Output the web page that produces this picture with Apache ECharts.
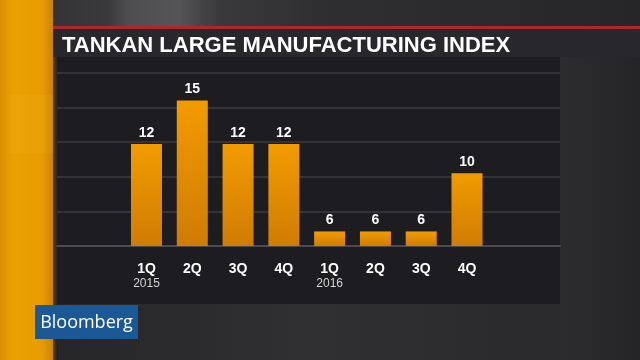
<!DOCTYPE html>
<html>
<head>
<meta charset="utf-8">
<script src="https://cdn.jsdelivr.net/npm/echarts@6/dist/echarts.min.js"></script>
<style>
html,body{margin:0;padding:0;background:#2b2b2d;}
#chart{width:640px;height:360px;}
</style>
</head>
<body>
<div id="chart"></div>
<script>
// ---- data ----
const quarters = ['1Q', '2Q', '3Q', '4Q', '1Q', '2Q', '3Q', '4Q'];
const years = ['2015', '', '', '', '2016', '', '', ''];
const values = [12, 15, 12, 12, 6, 6, 6, 10];
const titleText = 'TANKAN LARGE MANUFACTURING INDEX';
const brandText = 'Bloomberg';

const FONT = '"Liberation Sans", Arial, sans-serif';
const chart = echarts.init(document.getElementById('chart'), null, {renderer: 'canvas'});

const cats = quarters.map((q, i) => i);

const option = {
  backgroundColor: '#2b2b2d',
  animation: false,
  title: {
    text: titleText,
    left: 57,
    top: 30,
    textStyle: {color: '#ffffff', fontSize: 22, fontWeight: 'bold', fontFamily: FONT}
  },
  graphic: [
    // top strip
    {type: 'rect', z: -10, shape: {x: 0, y: 0, width: 640, height: 28},
      style: {fill: new echarts.graphic.LinearGradient(0, 0, 1, 0, [
        {offset: 0, color: '#2e2e30'}, {offset: 0.17, color: '#3a3a3c'},
        {offset: 0.2, color: '#4e4e50'}, {offset: 0.28, color: '#555557'},
        {offset: 0.34, color: '#3a3a3c'}, {offset: 0.5, color: '#2f2f31'}, {offset: 1, color: '#262628'}])}},
    // right side
    {type: 'rect', z: -10, shape: {x: 560, y: 28, width: 80, height: 332},
      style: {fill: new echarts.graphic.LinearGradient(0, 0, 1, 0, [
        {offset: 0, color: '#2c2c2e'}, {offset: 1, color: '#252527'}])}},
    // bottom area
    {type: 'rect', z: -10, shape: {x: 53, y: 304, width: 507, height: 56},
      style: {fill: new echarts.graphic.LinearGradient(0, 0, 1, 0, [
        {offset: 0, color: '#262628'}, {offset: 0.5, color: '#303032'}, {offset: 1, color: '#2a2a2c'}])}},
    // red line
    {type: 'rect', z: -9, shape: {x: 52, y: 26, width: 588, height: 3},
      style: {fill: '#b0262c'}},
    // title bar
    {type: 'rect', z: -9, shape: {x: 52, y: 29, width: 588, height: 28},
      style: {fill: '#28282c'}},
    // panel
    {type: 'rect', z: -9, shape: {x: 57, y: 57, width: 503, height: 247},
      style: {fill: '#1d1d21'}},
    // orange strip
    {type: 'rect', z: -8, shape: {x: 0, y: 0, width: 53, height: 360},
      style: {fill: new echarts.graphic.LinearGradient(0, 0, 1, 0, [
        {offset: 0, color: '#d98e00'}, {offset: 0.25, color: '#eba100'},
        {offset: 0.8, color: '#e89c00'}, {offset: 1, color: '#c98400'}])}},
    // halftone patch on orange strip
    {type: 'rect', z: -7, shape: {x: 8, y: 95, width: 45, height: 58},
      style: {fill: 'rgba(255,210,90,0.07)'}},
    // shadow right of strip
    {type: 'rect', z: -7, shape: {x: 53, y: 57, width: 5, height: 303},
      style: {fill: new echarts.graphic.LinearGradient(0, 0, 1, 0, [
        {offset: 0, color: '#5a4010'}, {offset: 1, color: '#1d1d21'}])}},
    // Bloomberg badge
    {type: 'group', z: 20, children: [
      {type: 'rect', shape: {x: 35, y: 305, width: 103, height: 34}, style: {fill: '#1b5896'}},
      {type: 'text', style: {x: 86.5, y: 322.5, text: brandText, fill: '#ffffff',
        font: '500 18px "Open Sans", "Liberation Sans", Arial, sans-serif',
        textAlign: 'center', textVerticalAlign: 'middle'}}
    ]}
  ],
  grid: [
    {left: 57, right: 80, top: 73, bottom: 114, containLabel: false},
    {left: 123.6, right: 150.1, top: 71.3, bottom: 114, containLabel: false}
  ],
  xAxis: [
    {gridIndex: 0, type: 'value', min: 0, max: 1, show: true,
      axisLine: {show: true, onZero: false, lineStyle: {color: '#4a4a50', width: 2}},
      axisTick: {show: false}, axisLabel: {show: false}, splitLine: {show: false}},
    {gridIndex: 1, type: 'category', data: cats,
      axisLine: {show: false}, axisTick: {show: false},
      axisLabel: {
        margin: 15, interval: 0,
        formatter: (v, i) => '{q|' + quarters[i] + '}' + (years[i] ? '\n{y|' + years[i] + '}' : ''),
        rich: {
          q: {color: '#ffffff', fontSize: 14, fontWeight: 'bold', fontFamily: FONT, lineHeight: 16},
          y: {color: '#d4d4d4', fontSize: 12, fontFamily: FONT, lineHeight: 14}
        }
      }}
  ],
  yAxis: [
    {gridIndex: 0, type: 'value', min: 0, max: 5, interval: 1,
      axisLine: {show: false}, axisTick: {show: false}, axisLabel: {show: false},
      splitLine: {show: true, lineStyle: {color: '#3a3a40', width: 1.5}}},
    {gridIndex: 1, type: 'value', min: 5, max: 17,
      axisLine: {show: false}, axisTick: {show: false}, axisLabel: {show: false},
      splitLine: {show: false}}
  ],
  series: [{
    type: 'bar', xAxisIndex: 1, yAxisIndex: 1,
    data: values, barWidth: 31,
    itemStyle: {color: new echarts.graphic.LinearGradient(0, 0, 0, 1, [
      {offset: 0, color: '#f29b00'}, {offset: 1, color: '#cf7c04'}])},
    label: {show: true, position: 'top', distance: 4, color: '#ffffff',
      fontSize: 14, fontWeight: 'bold', fontFamily: FONT}
  }]
};
chart.setOption(option);
</script>
</body>
</html>
